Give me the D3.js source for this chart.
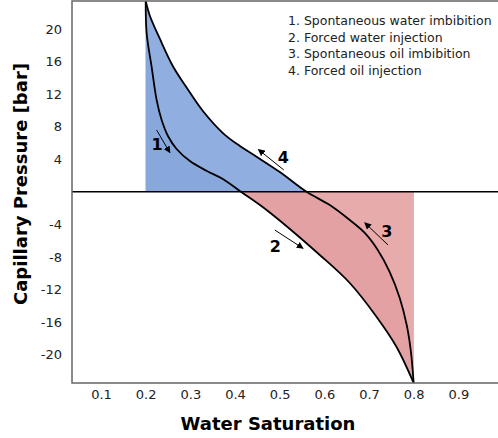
<!DOCTYPE html>
<html>
<head>
<meta charset="utf-8">
<script src="https://cdn.jsdelivr.net/npm/d3@7"></script>
<style>
  body { margin: 0; background: #fff; }
  svg { display: block; font-family: Verdana, "DejaVu Sans", sans-serif; }
</style>
</head>
<body>
<div class="chart"></div>
<script>
// chart size
var svgWidth = 498;
var svgHeight = 438;

// curve 1: spontaneous water imbibition (Sw, Pc)
var imbWaterSw = [0.200, 0.2021, 0.2133, 0.2245, 0.2357, 0.2498, 0.2692, 0.2990, 0.3370, 0.3728, 0.4131];
var imbWaterPc = [23.45, 19.52, 15.34, 11.28, 8.82, 6.86, 5.26, 3.78, 2.56, 1.57, 0];

// curve 2: forced water injection
var injWaterSw = [0.4131, 0.4706, 0.5898, 0.6569, 0.7167, 0.7614, 0.800];
var injWaterPc = [0, -2.24, -7.77, -11.21, -15.35, -19.04, -23.5];

// curve 3: spontaneous oil imbibition
var imbOilSw = [0.800, 0.7934, 0.7844, 0.7688, 0.7464, 0.7196, 0.6905, 0.6569, 0.6122, 0.5601];
var imbOilPc = [-23.5, -19.45, -16.37, -13.05, -9.86, -7.15, -5.06, -3.47, -1.63, 0];

// curve 4: forced oil injection
var injOilSw = [0.5601, 0.5003, 0.4482, 0.4108, 0.3735, 0.3281, 0.2923, 0.2616, 0.2319, 0.2095, 0.200];
var injOilPc = [0, 2.43, 4.31, 5.63, 7.19, 9.93, 12.76, 15.37, 18.78, 21.61, 23.45];

// ticks and labels
var xTicks = [0.1, 0.2, 0.3, 0.4, 0.5, 0.6, 0.7, 0.8, 0.9, 1];
var yTicks = [-20, -16, -12, -8, -4, 4, 8, 12, 16, 20];
var legendLabels = [
  "1. Spontaneous water imbibition",
  "2. Forced water injection",
  "3. Spontaneous oil imbibition",
  "4. Forced oil injection"
];

// curve numbers and their arrows, in data units
var curveTags = ["1", "2", "3", "4"];
var tagSw = [0.2129, 0.478, 0.7274, 0.4958];
var tagPc = [5.14, -7.36, -5.52, 3.60];
var arrowFromSw = [0.2245, 0.4891, 0.7426, 0.5093];
var arrowFromPc = [7.59, -4.70, -6.54, 2.68];
var arrowToSw = [0.2542, 0.5524, 0.6905, 0.4522];
var arrowToPc = [4.80, -6.95, -3.80, 5.20];

function toPoints(sw, pc) {
  return sw.map(function(s, i) { return { sw: s, pc: pc[i] }; });
}
function sortBySw(pts) {
  return pts.slice().sort(function(a, b) { return a.sw - b.sw; });
}

var curve1 = toPoints(imbWaterSw, imbWaterPc);
var curve2 = toPoints(injWaterSw, injWaterPc);
var curve3 = toPoints(imbOilSw, imbOilPc);
var curve4 = toPoints(injOilSw, injOilPc);

var svg = d3.select(".chart")
  .append("svg")
  .attr("width", svgWidth)
  .attr("height", svgHeight);

// plot area runs past the right edge of the page
var plotLeft = 72, plotTop = 1, plotBottom = 383, plotRight = 503;

var x = d3.scaleLinear()
  .domain([0.035, 1.0])
  .range([plotLeft, plotRight]);

var y = d3.scaleLinear()
  .domain([-23.5, 23.45])
  .range([plotBottom, plotTop]);

var smooth = d3.curveCatmullRom.alpha(0.5);

var line = d3.line()
  .x(d => x(d.sw))
  .y(d => y(d.pc))
  .curve(smooth);

var area = d3.area()
  .x(d => x(d.sw))
  .y0(y(0))
  .y1(d => y(d.pc))
  .curve(smooth);

// red region (below zero)
svg.append("path")
  .datum(sortBySw(curve2))
  .attr("fill", "#e3a1a4")
  .attr("d", area);

svg.append("path")
  .datum(sortBySw(curve3))
  .attr("fill", "#e8abab")
  .attr("d", area);

// blue region (above zero)
svg.append("path")
  .datum(sortBySw(curve4))
  .attr("fill", "#90aee0")
  .attr("d", area);

svg.append("path")
  .datum(sortBySw(curve1))
  .attr("fill", "#88a7db")
  .attr("d", area);

// the two full curves
svg.append("path")
  .datum(sortBySw(curve1.concat(curve2.slice(1))))
  .attr("fill", "none")
  .attr("stroke", "#000")
  .attr("stroke-width", 1.8)
  .attr("d", line);

svg.append("path")
  .datum(sortBySw(curve4.concat(curve3.slice(0, -1))))
  .attr("fill", "none")
  .attr("stroke", "#000")
  .attr("stroke-width", 1.8)
  .attr("d", line);

// zero line
svg.append("line")
  .attr("x1", plotLeft).attr("x2", plotRight)
  .attr("y1", y(0)).attr("y2", y(0))
  .attr("stroke", "#000")
  .attr("stroke-width", 1.5);

// frame
svg.append("path")
  .attr("d", `M${plotRight},${plotTop}H${plotLeft}V${plotBottom}H${plotRight}`)
  .attr("fill", "none")
  .attr("stroke", "#666")
  .attr("stroke-width", 1.5);

// axes (labels only)
var bottomAxis = d3.axisBottom(x)
  .tickValues(xTicks)
  .tickFormat(d3.format("~g"))
  .tickSize(0)
  .tickPadding(7);

var leftAxis = d3.axisLeft(y)
  .tickValues(yTicks)
  .tickFormat(d => String(d))
  .tickSize(0)
  .tickPadding(10);

var gx = svg.append("g")
  .attr("transform", `translate(0, ${plotBottom})`)
  .call(bottomAxis);
var gy = svg.append("g")
  .attr("transform", `translate(${plotLeft}, 0)`)
  .call(leftAxis);

[gx, gy].forEach(function(g) {
  g.select(".domain").remove();
  g.selectAll("text")
    .attr("fill", "#222")
    .style("font-size", "13px")
    .style("font-family", "Verdana, 'DejaVu Sans', sans-serif");
});

// axis titles
svg.append("text")
  .attr("transform", "rotate(-90)")
  .attr("x", -184)
  .attr("y", 27)
  .attr("text-anchor", "middle")
  .style("font-size", "18px")
  .style("font-weight", "bold")
  .text("Capillary Pressure [bar]");

svg.append("text")
  .attr("x", 268)
  .attr("y", 430)
  .attr("text-anchor", "middle")
  .style("font-size", "18px")
  .style("font-weight", "bold")
  .text("Water Saturation");

// legend text
svg.selectAll("text.legend")
  .data(legendLabels)
  .enter()
  .append("text")
  .attr("class", "legend")
  .attr("x", 288)
  .attr("y", (d, i) => 25 + i * 16.7)
  .attr("fill", "#222")
  .style("font-size", "12.5px")
  .text(d => d);

svg.append("defs").append("marker")
  .attr("id", "head")
  .attr("viewBox", "0 0 10 10")
  .attr("refX", 9).attr("refY", 5)
  .attr("markerWidth", 7).attr("markerHeight", 7)
  .attr("markerUnits", "userSpaceOnUse")
  .attr("orient", "auto")
  .append("path")
  .attr("d", "M0,0L10,5L0,10Z")
  .attr("fill", "#000");

svg.selectAll("line.arrow")
  .data(curveTags)
  .enter()
  .append("line")
  .attr("class", "arrow")
  .attr("x1", (d, i) => x(arrowFromSw[i]))
  .attr("y1", (d, i) => y(arrowFromPc[i]))
  .attr("x2", (d, i) => x(arrowToSw[i]))
  .attr("y2", (d, i) => y(arrowToPc[i]))
  .attr("stroke", "#000")
  .attr("stroke-width", 1)
  .attr("marker-end", "url(#head)");

svg.selectAll("text.tag")
  .data(curveTags)
  .enter()
  .append("text")
  .attr("class", "tag")
  .attr("x", (d, i) => x(tagSw[i]))
  .attr("y", (d, i) => y(tagPc[i]))
  .style("font-size", "16px")
  .style("font-weight", "bold")
  .text(d => d);
</script>
</body>
</html>
